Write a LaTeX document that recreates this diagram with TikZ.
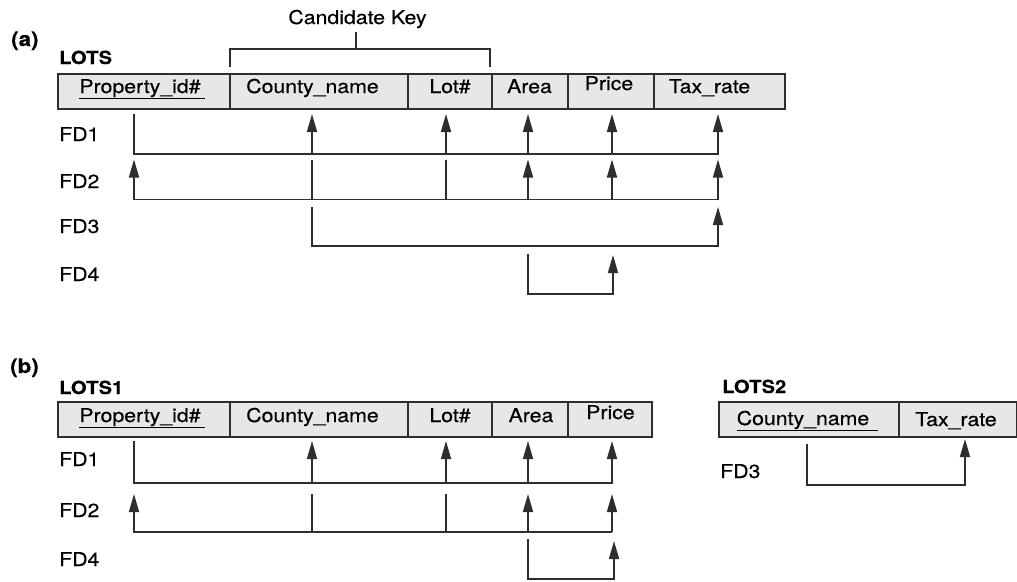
\documentclass[tikz,border=0pt]{standalone}
\usepackage{fontspec}
\setmainfont{TeX Gyre Heros}[FakeStretch=1.12, FakeBold=0.4]
\usetikzlibrary{arrows.meta}
\definecolor{ink}{HTML}{2E2E2E}
\definecolor{cellgray}{HTML}{E6E7E8}
\begin{document}
\begin{tikzpicture}[x=1pt,y=-1pt,
  cell/.style={draw=ink, fill=cellgray, line width=1.6pt, inner sep=0pt, outer sep=0pt},
  attr/.style={anchor=base, inner sep=0pt, font=\fontsize{19}{22}\selectfont},
  fdlabel/.style={anchor=base west, inner sep=0pt, font=\fontsize{19}{22}\selectfont},
  relname/.style={anchor=base west, inner sep=0pt, font=\bfseries\fontsize{18}{22}\selectfont},
  part/.style={anchor=base west, inner sep=0pt, font=\bfseries\fontsize{20}{24}\selectfont},
  fd/.style={draw=ink, line width=1.6pt},
  fdarrow/.style={fd, -{Triangle[length=18pt,width=10pt]}},
]
\useasboundingbox (0,0) rectangle (1017,581);

% ---------------- (a) LOTS ----------------
\node[part] (parta) at (11,46) {(a)};
\node[relname] (lots) at (59,64) {LOTS};

\node[cell, minimum width=172pt, minimum height=35pt] (aPid)   at (144,91.5)   {};
\node[cell, minimum width=178pt, minimum height=35pt] (aCty)   at (319,91.5)   {};
\node[cell, minimum width=84pt,  minimum height=35pt] (aLot)   at (450,91.5)   {};
\node[cell, minimum width=76pt,  minimum height=35pt] (aArea)  at (530,91.5)   {};
\node[cell, minimum width=86pt,  minimum height=35pt] (aPrice) at (611,91.5)   {};
\node[cell, minimum width=131pt, minimum height=35pt] (aTax)   at (719.5,91.5) {};

\node[attr] (taPid)   at (142,93)   {\underline{Property\_id\#\hspace{4pt}}};
\node[attr] (taCty)   at (312.5,93) {County\_name};
\node[attr] (taLot)   at (450,93)   {Lot\#};
\node[attr] (taArea)  at (529.5,93) {Area};
\node[attr] (taPrice) at (609,90)   {Price};
\node[attr] (taTax)   at (709.5,93) {Tax\_rate};

% candidate key bracket over County_name and Lot#
\node[attr] (ckey) at (357.5,24) {Candidate Key};
\coordinate (ckL) at (230,67);
\coordinate (ckR) at (490,67);
\coordinate (ckBar) at (356,49);
\draw[fd] (ckL) -- (ckL |- ckBar) -- (ckR |- ckBar) -- (ckR);
\draw[fd] (ckBar) -- (ckBar |- 0,32);

\node[fdlabel] (afd1) at (59,141) {FD1};
\node[fdlabel] (afd2) at (59,188) {FD2};
\node[fdlabel] (afd3) at (59,233) {FD3};
\node[fdlabel] (afd4) at (59,281) {FD4};

% tap columns of LOTS
\coordinate (xP)  at (134,0);
\coordinate (xC)  at (312,0);
\coordinate (xL)  at (446,0);
\coordinate (xA)  at (528,0);
\coordinate (xPr) at (612,0);
\coordinate (xT)  at (718,0);

% rows of the dependencies in (a)
\coordinate (a1t) at (0,114);   \coordinate (a1b) at (0,154);
\coordinate (a2t) at (0,159.5); \coordinate (a2b) at (0,199.5);
\coordinate (a3t) at (0,207);   \coordinate (a3b) at (0,246);
\coordinate (a4t) at (0,253.5); \coordinate (a4b) at (0,294);

% FD1: Property_id# -> all
\draw[fdarrow] (xP |- a1t) -- (xP |- a1b) -- (xT |- a1b) -- (xT |- a1t);
\draw[fdarrow] (xC |- a1b) -- (xC |- a1t);
\draw[fdarrow] (xL |- a1b) -- (xL |- a1t);
\draw[fdarrow] (xA |- a1b) -- (xA |- a1t);
\draw[fdarrow] (xPr |- a1b) -- (xPr |- a1t);

% FD2: {County_name, Lot#} -> all
\draw[fdarrow] (xT |- a2b) -- (xT |- a2t);
\draw[fdarrow] (xT |- a2b) -- (xP |- a2b) -- (xP |- a2t);
\draw[fd] (xC |- a2t) -- (xC |- a2b);
\draw[fd] (xL |- a2t) -- (xL |- a2b);
\draw[fdarrow] (xA |- a2b) -- (xA |- a2t);
\draw[fdarrow] (xPr |- a2b) -- (xPr |- a2t);

% FD3: County_name -> Tax_rate
\draw[fdarrow] (xC |- a3t) -- (xC |- a3b) -- (xT |- a3b) -- (xT |- a3t);

% FD4: Area -> Price
\coordinate (xPr4) at (613,0);
\draw[fdarrow] (xA |- a4t) -- (xA |- a4b) -- (xPr4 |- a4b) -- (xPr4 |- 0,255);

% ---------------- (b) LOTS1 ----------------
\node[part] (partb) at (10,373) {(b)};
\node[relname] (lots1) at (59,394) {LOTS1};

\node[cell, minimum width=172pt, minimum height=35pt] (bPid)   at (144,419.5) {};
\node[cell, minimum width=178pt, minimum height=35pt] (bCty)   at (319,419.5) {};
\node[cell, minimum width=84pt,  minimum height=35pt] (bLot)   at (450,419.5) {};
\node[cell, minimum width=76pt,  minimum height=35pt] (bArea)  at (530,419.5) {};
\node[cell, minimum width=84pt,  minimum height=35pt] (bPrice) at (610,419.5) {};

\node[attr] (tbPid)   at (142,422)   {\underline{Property\_id\#\hspace{4pt}}};
\node[attr] (tbCty)   at (312.5,422) {County\_name};
\node[attr] (tbLot)   at (450,422)   {Lot\#};
\node[attr] (tbArea)  at (531,422)   {Area};
\node[attr] (tbPrice) at (610.5,419) {Price};

\node[fdlabel] (bfd1) at (59,466) {FD1};
\node[fdlabel] (bfd2) at (59,517) {FD2};
\node[fdlabel] (bfd4) at (59,566) {FD4};

\coordinate (xPb) at (612,0);
\coordinate (b1t) at (0,441);   \coordinate (b1b) at (0,483);
\coordinate (b2t) at (0,494);   \coordinate (b2b) at (0,532);
\coordinate (b4t) at (0,539);   \coordinate (b4b) at (0,579);

% FD1
\draw[fdarrow] (xP |- b1t) -- (xP |- b1b) -- (xPb |- b1b) -- (xPb |- b1t);
\draw[fdarrow] (xC |- b1b) -- (xC |- b1t);
\draw[fdarrow] (xL |- b1b) -- (xL |- b1t);
\draw[fdarrow] (xA |- b1b) -- (xA |- b1t);

% FD2
\draw[fdarrow] (xPb |- b2b) -- (xPb |- b2t);
\draw[fdarrow] (xPb |- b2b) -- (xP |- b2b) -- (xP |- b2t);
\draw[fd] (xC |- b2t) -- (xC |- b2b);
\draw[fd] (xL |- b2t) -- (xL |- b2b);
\draw[fdarrow] (xA |- b2b) -- (xA |- b2t);

% FD4
\coordinate (xPb4) at (614,0);
\draw[fdarrow] (xA |- b4t) -- (xA |- b4b) -- (xPb4 |- b4b) -- (xPb4 |- 0,541);

% ---------------- (b) LOTS2 ----------------
\node[relname] (lots2) at (722,393) {LOTS2};

\node[cell, minimum width=180pt, minimum height=35pt] (cCty) at (809,419.5) {};
\node[cell, minimum width=118pt, minimum height=35pt] (cTax) at (958,419.5) {};

\node[attr] (tcCty) at (807.5,425) {\underline{County\_name\hspace{9pt}}};
\node[attr] (tcTax) at (956,426)   {Tax\_rate};

\node[fdlabel] (cfd3) at (720,478) {FD3};

\coordinate (xC2) at (807,0);
\coordinate (xT2) at (965,0);
\draw[fdarrow] (xC2 |- 0,444) -- (xC2 |- 0,485) -- (xT2 |- 0,485) -- (xT2 |- 0,439);

\end{tikzpicture}
\end{document}
